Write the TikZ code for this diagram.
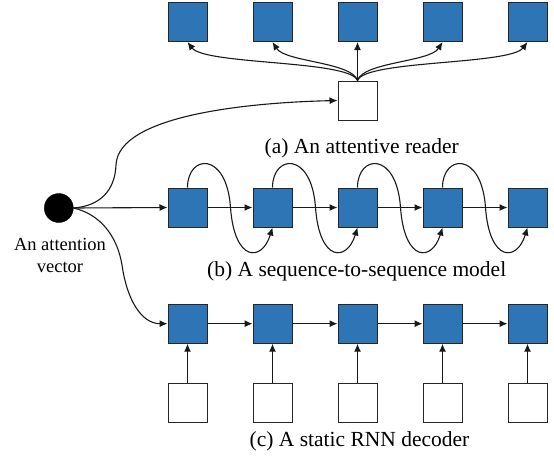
\documentclass[tikz,border=0pt]{standalone}
\usepackage{fontspec}
\setmainfont{Liberation Serif}
\usetikzlibrary{arrows.meta}
\definecolor{boxblue}{RGB}{46,117,182}
\begin{document}
\begin{tikzpicture}[x=1pt,y=-1pt,
  bluebox/.style={draw=black!85,fill=boxblue,line width=1pt,minimum width=39pt,minimum height=39pt,inner sep=0pt},
  whitebox/.style={draw=black!85,fill=white,line width=1pt,minimum width=39pt,minimum height=39pt,inner sep=0pt},
  dot/.style={circle,fill=black,draw=black,minimum size=29pt,inner sep=0pt},
  arr/.style={-{Latex[length=8pt,width=7pt]},line width=1.1pt,black!90},
  lbl/.style={font=\fontsize{21.5}{24}\selectfont,inner sep=0pt},
  smalllbl/.style={font=\fontsize{18.5}{22}\selectfont,inner sep=0pt,align=center}]
\useasboundingbox (0,0) rectangle (554,459);

% boxes
\foreach \i in {1,...,5} {
  \node[bluebox] (a\i) at ({187.5+85*(\i-1)},22) {};
  \node[bluebox] (b\i) at ({187.5+85*(\i-1)},207.5) {};
  \node[bluebox] (c\i) at ({187.5+85*(\i-1)},323.7) {};
  \node[whitebox] (w\i) at ({187.5+85*(\i-1)},402.5) {};
}
\node[whitebox] (wa) at (357.5,100.5) {};
\node[lbl] (la) at (361.7,148) {(a) An attentive reader};
\node[lbl] (lb) at (356.7,271.5) {(b) A sequence-to-sequence model};
\node[lbl] (lc) at (359.5,441.7) {(c) A static RNN decoder};

\node[dot] (v) at (58.8,208) {};
\node[smalllbl] (vl) at (60,255) {An attention\\vector};

% fan-out arrows of (a)
\draw[arr] (wa.north) .. controls +(-7.5,-20.5) and +(17.5,23) .. (a1.south);
\draw[arr] (wa.north) .. controls +(-5.5,-18.5) and +(12.5,20) .. (a2.south);
\draw[arr] (wa.north) -- (a3.south);
\draw[arr] (wa.north) .. controls +(5.5,-18.5) and +(-12.5,20) .. (a4.south);
\draw[arr] (wa.north) .. controls +(7.5,-20.5) and +(-17.5,23) .. (a5.south);

% from the attention vector
\coordinate (up) at (116,165);
\coordinate (lo) at (122,265);
\draw[arr] (v.east) .. controls +(27,-2) and +(-1,25) .. (up) .. controls +(2,-50) and +(-88,2) .. (wa.west);
\draw[arr] (v.east) -- (b1.west);
\draw[arr] (v.east) .. controls +(26,6) and +(-5,-30) .. (lo) .. controls +(5,35) and +(-26,0) .. (c1.west);

% (b) sequence-to-sequence
\foreach \i/\j in {1/2,2/3,3/4,4/5} {
  \draw[arr] (b\i.east) -- (b\j.west);
  \coordinate (m\i) at ({187.5+85*(\i-1)+43},207.5);
  \draw[arr] (b\i.north) .. controls +(0,-33) and +(-4,-57) .. (m\i)
     .. controls +(4,55) and +(-10.5,34.5) .. (b\j.south);
}

% (c) static RNN decoder
\foreach \i/\j in {1/2,2/3,3/4,4/5} {
  \draw[arr] (c\i.east) -- (c\j.west);
}
\foreach \i in {1,...,5} {
  \draw[arr] (w\i.north) -- (c\i.south);
}
\end{tikzpicture}
\end{document}
